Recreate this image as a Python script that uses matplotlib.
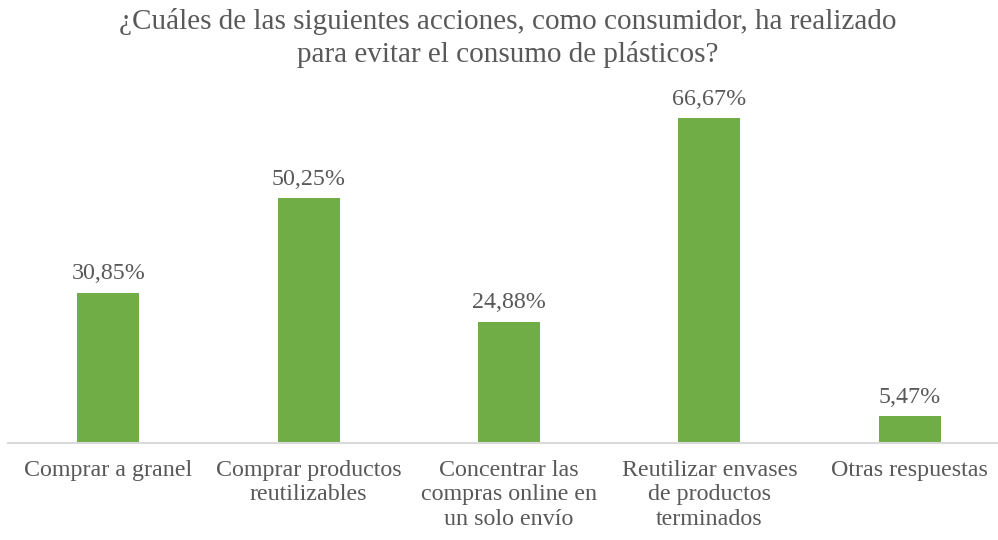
import matplotlib
matplotlib.use("Agg")
import matplotlib.pyplot as plt

categories = ["Comprar a granel", "Comprar productos\nreutilizables",
              "Concentrar las\ncompras online en\nun solo envío",
              "Reutilizar envases\nde productos\nterminados", "Otras respuestas"]
values = [30.85, 50.25, 24.88, 66.67, 5.47]
value_labels = ["30,85%", "50,25%", "24,88%", "66,67%", "5,47%"]
title = "¿Cuáles de las siguientes acciones, como consumidor, ha realizado\npara evitar el consumo de plásticos?"

plt.rcParams['font.family'] = ['Liberation Serif', 'DejaVu Serif']
txt = '#595959'
W, H = 998, 540
fig = plt.figure(figsize=(W/100, H/100), dpi=100)
ax = fig.add_axes([8/W, 97/H, 1002/W, 341/H])
x = range(len(categories))
bars = ax.bar(x, values, width=0.31, color='#70AD47', zorder=2)
ax.set_xlim(-0.5, len(categories)-0.5)
ax.set_ylim(0, 70)
for xi, v, lab in zip(x, values, value_labels):
    ax.annotate(lab, (xi, v), xytext=(0, 6), textcoords='offset points',
                ha='center', va='bottom', fontsize=17.3, color=txt)
ax.set_xticks(list(x))
ax.set_xticklabels(categories, fontsize=17.3, color=txt, linespacing=1.22)
ax.tick_params(axis='x', length=0, pad=12)
ax.set_yticks([])
for s in ['top', 'right', 'left']:
    ax.spines[s].set_visible(False)
ax.spines['bottom'].set_color('#D9D9D9')
ax.spines['bottom'].set_linewidth(1.5)
fig.text(508/W, 1 - 8/H, title, ha='center', va='top', fontsize=21,
         color=txt, linespacing=1.3)
fig.savefig('out.png', dpi=100)
